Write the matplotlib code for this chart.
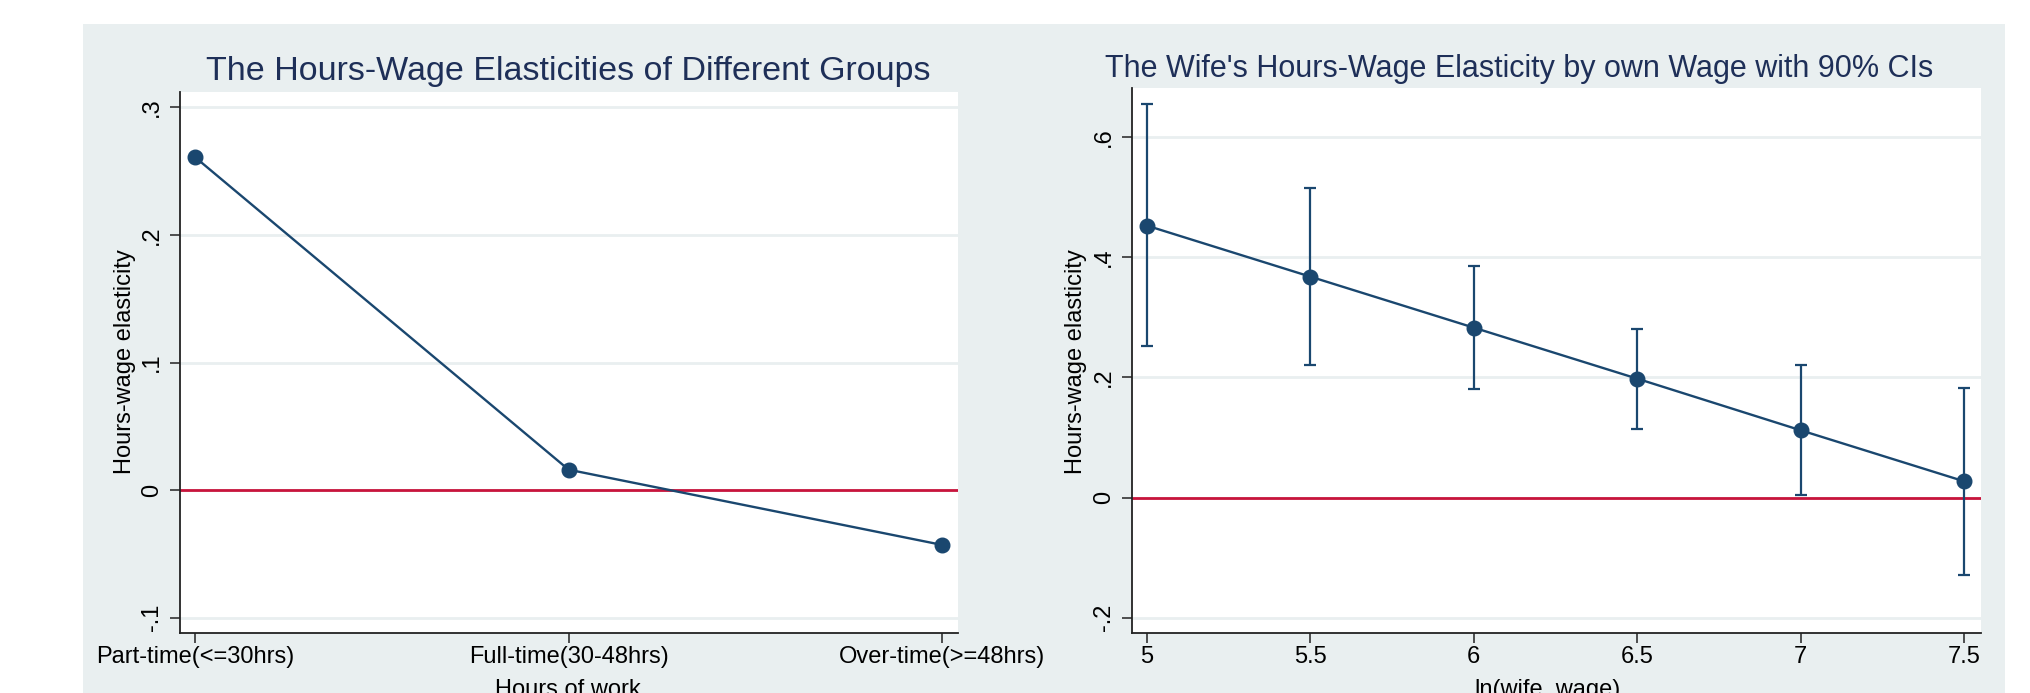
import numpy as np
import matplotlib
matplotlib.use('Agg')
import matplotlib.pyplot as plt
from matplotlib.patches import Rectangle

# data
groups = ['Part-time(<=30hrs)', 'Full-time(30-48hrs)', 'Over-time(>=48hrs)']
group_elast = [0.261, 0.016, -0.043]

ln_wage = [5, 5.5, 6, 6.5, 7, 7.5]
wife_elast = [0.453, 0.368, 0.283, 0.198, 0.112, 0.027]
ci_low = [0.252, 0.221, 0.181, 0.114, 0.005, -0.129]
ci_high = [0.656, 0.516, 0.385, 0.281, 0.221, 0.183]

left_yticks = [-0.1, 0, 0.1, 0.2, 0.3]
left_ylabels = ['-.1', '0', '.1', '.2', '.3']
right_yticks = [-0.2, 0, 0.2, 0.4, 0.6]
right_ylabels = ['-.2', '0', '.2', '.4', '.6']
right_xticks = [5, 5.5, 6, 6.5, 7, 7.5]
right_xlabels = ['5', '5.5', '6', '6.5', '7', '7.5']

navy = '#1a476f'
red = '#c8143c'
bg = '#e9eff0'
title_col = '#1e2f58'

plt.rcParams['font.family'] = ['Liberation Sans', 'DejaVu Sans']
plt.rcParams['font.size'] = 17

W, H = 2030, 693
fig = plt.figure(figsize=(W / 100, H / 100), dpi=100)
fig.patch.set_facecolor('white')
fig.patches.append(Rectangle((83 / W, 0), (2005 - 83) / W, (H - 24) / H,
                             transform=fig.transFigure, facecolor=bg,
                             edgecolor='none', zorder=-10))


def px_axes(x0, x1, y0, y1):
    # pixel box (top-left origin) -> figure axes
    return fig.add_axes([x0 / W, (H - y1) / H, (x1 - x0) / W, (y1 - y0) / H])


def style(ax, yticks, ylabels):
    ax.set_facecolor('white')
    for s in ['top', 'right']:
        ax.spines[s].set_visible(False)
    for s in ['left', 'bottom']:
        ax.spines[s].set_linewidth(1.3)
        ax.spines[s].set_color('#222222')
    ax.set_yticks(yticks)
    ax.set_yticklabels(ylabels)
    ax.tick_params(axis='both', direction='out', length=7, width=1.1,
                   labelsize=17, color='#222222')
    ax.tick_params(axis='x', pad=2)
    ax.tick_params(axis='y', pad=5)
    for lab in ax.get_yticklabels():
        lab.set_rotation(90)
        lab.set_va('center')
    for y in yticks:
        ax.axhline(y, color=bg, lw=2, zorder=0)
    ax.axhline(0, color=red, lw=2, zorder=1)


# left panel
ax1 = px_axes(180, 958, 92, 633)
x = np.arange(len(groups))
ax1.plot(x, group_elast, color=navy, lw=1.7, marker='o', ms=10.5, zorder=3)
ax1.set_xticks(x)
ax1.set_xticklabels(groups)
ax1.set_xlim(-0.04, 2.042)
ax1.set_ylim(-0.112, 0.312)
style(ax1, left_yticks, left_ylabels)

# right panel
ax2 = px_axes(1131.5, 1980.7, 88, 633.3)
yerr = [np.array(wife_elast) - np.array(ci_low), np.array(ci_high) - np.array(wife_elast)]
ax2.errorbar(ln_wage, wife_elast, yerr=yerr, fmt='none', ecolor=navy,
             elinewidth=1.6, capsize=4, capthick=1.6, zorder=3)
ax2.plot(ln_wage, wife_elast, color=navy, lw=1.7, marker='o', ms=10.5, zorder=4)
ax2.set_xticks(right_xticks)
ax2.set_xticklabels(right_xlabels)
ax2.set_xlim(4.954, 7.55)
ax2.set_ylim(-0.226, 0.682)
style(ax2, right_yticks, right_ylabels)

# titles and axis titles placed in pixel coords
fig.text(568 / W, 1 - 80 / H, 'The Hours-Wage Elasticities of Different Groups',
         ha='center', va='baseline', fontsize=24.5, color=title_col)
fig.text(1519 / W, 1 - 77 / H, "The Wife's Hours-Wage Elasticity by own Wage with 90% CIs",
         ha='center', va='baseline', fontsize=22, color=title_col)
fig.text(125 / W, 1 - 362 / H, 'Hours-wage elasticity', rotation=90,
         ha='center', va='center', fontsize=17)
fig.text(1076 / W, 1 - 362 / H, 'Hours-wage elasticity', rotation=90,
         ha='center', va='center', fontsize=17)
fig.text(568 / W, 1 - 679 / H, 'Hours of work', ha='center', va='top', fontsize=17)
fig.text(1548 / W, 1 - 679 / H, 'ln(wife_wage)', ha='center', va='top', fontsize=17)

fig.savefig('out.png', dpi=100, facecolor='white')
